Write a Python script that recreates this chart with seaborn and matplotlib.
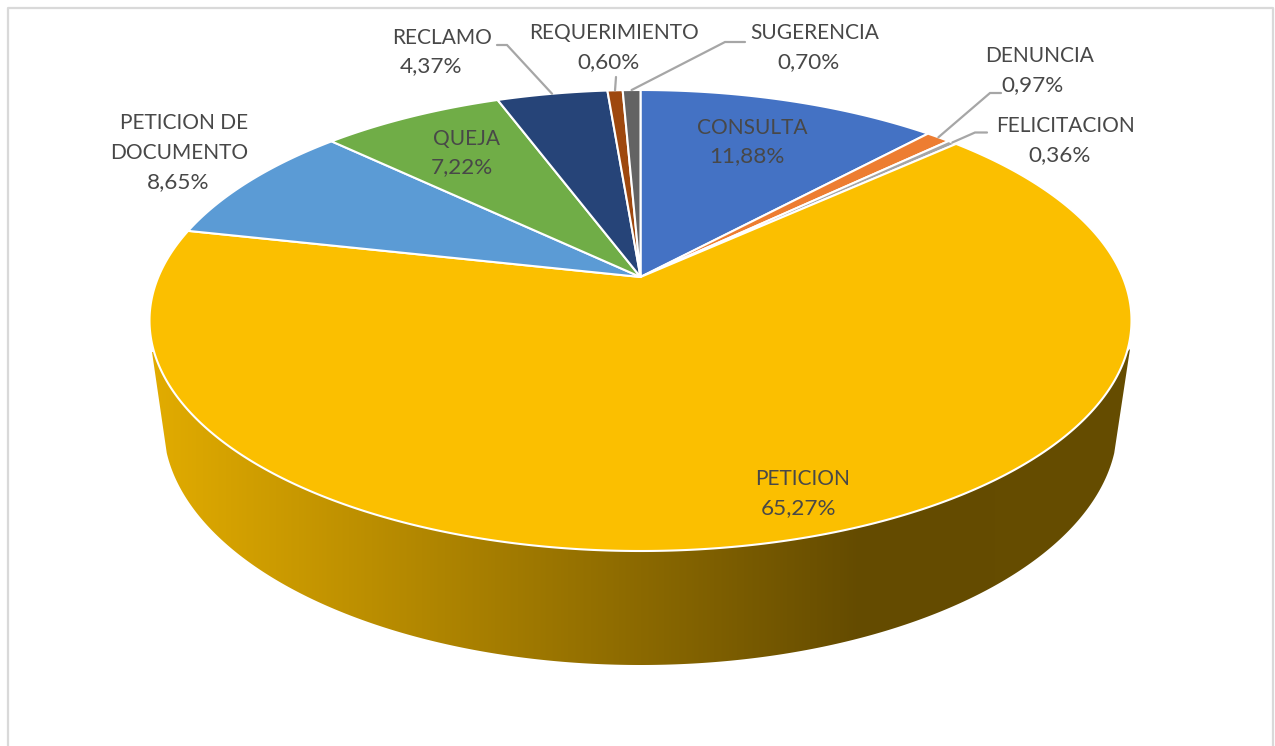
import numpy as np
import matplotlib
matplotlib.use("Agg")
import matplotlib.pyplot as plt
from matplotlib.colors import LinearSegmentedColormap
from matplotlib.patches import Polygon
import seaborn as sns

categories = ["CONSULTA", "DENUNCIA", "FELICITACION", "PETICION",
              "PETICION DE\nDOCUMENTO", "QUEJA", "RECLAMO", "REQUERIMIENTO", "SUGERENCIA"]
values = [11.88, 0.97, 0.36, 65.27, 8.65, 7.22, 4.37, 0.60, 0.70]
colors = ["#4472C4", "#ED7D31", "#A5A5A5", "#FBBF00", "#5B9BD5",
          "#70AD47", "#264478", "#9E480E", "#636363"]

# label layout: centre of each text line, in the pixel space of the axes
name_pos = [[(752, 128)], [(1040, 56)], [(1066, 126)], [(803, 479)],
            [(184, 123), (179, 153)], [(467, 139)], [(442, 38)], [(614, 33)], [(815, 33)]]
value_pos = [(747, 156), (1033, 85), (1060, 155), (798, 508), (178, 182),
             (462, 167), (431, 66), (608, 62), (809, 62)]
# leader lines: elbow and end, for the slices labelled outside the pie
leaders = {1: [(990, 93), (1001, 93)], 2: [(975, 132.5), (987, 132.5)],
           6: [(507, 45), (497, 45)], 7: [(616, 77)], 8: [(725, 42), (745, 42)]}

sns.set_theme(style="white")
plt.rcParams["font.family"] = ["Lato", "DejaVu Sans"]

W, H = 1275, 746
fig = plt.figure(figsize=(W / 100, H / 100), dpi=100, facecolor="white")
ax = fig.add_axes([0, 0, 1, 1])

# perspective projection of the unit disc onto the pie's top ellipse
CX, CY, RX, RY = 640.5, 320.5, 491.0, 230.5
KK = 87 / (2 * RY)
AX = RX * np.sqrt(1 - KK ** 2)


def project(theta):
    x, y = np.sin(theta), np.cos(theta)
    den = 1 + KK * y
    return CX + AX * x / den, CY - (RY * y + 43.5) / den


palette = sns.color_palette(colors)
edges = np.concatenate([[0], np.cumsum(values)]) / np.sum(values) * 2 * np.pi
cx0, cy0 = project(0)[0], CY - 43.5

# side wall with horizontal gradient
phi0 = np.arcsin((352 - CY) / RY)
phi = np.linspace(phi0, np.pi - phi0, 300)
rim_x = CX + RX * np.cos(phi)
rim_y = CY + RY * np.sin(phi)
BCY, BRX, BRY = 425.0, 477.0, 240.0
psi0 = np.arcsin((453 - BCY) / BRY)
psi = np.linspace(psi0, np.pi - psi0, 300)
bot_x = CX + BRX * np.cos(psi)
bot_y = BCY + BRY * np.sin(psi)
wall = np.column_stack([np.r_[1130, rim_x, 152, bot_x[::-1]],
                        np.r_[349, rim_y, 352, bot_y[::-1]]])
cmap = LinearSegmentedColormap.from_list(
    "wall", [(0, "#E2AC00"), (0.725, "#644B00"), (1, "#664D00")])
img = ax.imshow(np.linspace(0, 1, 512)[None, :], extent=(150, 1132, 670, 340),
                cmap=cmap, aspect="auto", vmin=0, vmax=1, zorder=1, interpolation="bilinear")
clip = Polygon(wall, closed=True, transform=ax.transData, fc="none", ec="none")
ax.add_patch(clip)
img.set_clip_path(clip)

# top face slices
for i, col in enumerate(palette):
    th = np.linspace(edges[i], edges[i + 1], max(int(values[i] * 8), 6))
    px, py = project(th)
    ax.fill(np.r_[cx0, px], np.r_[cy0, py], facecolor=col, edgecolor="white",
            linewidth=1.5, joinstyle="round", zorder=2)

# leaders
for i, pts in leaders.items():
    sx, sy = project((edges[i] + edges[i + 1]) / 2)
    ax.plot([sx] + [p[0] for p in pts], [sy] + [p[1] for p in pts],
            color="#A6A6A6", lw=1.6, zorder=3, solid_joinstyle="miter")

# labels
TXT = "#484848"
for i, name in enumerate(categories):
    for line, (x, y) in zip(name.split("\n"), name_pos[i]):
        ax.text(x, y, line, ha="center", va="center", color=TXT, fontsize=15.0, zorder=4)
    vx, vy = value_pos[i]
    ax.text(vx, vy, f"{values[i]:.2f}%".replace(".", ","), ha="center", va="center",
            color=TXT, fontsize=16.2, zorder=4)

# chart frame (runs past the bottom of the picture)
ax.plot([7.5, 7.5, 1273, 1273], [760, 7.5, 7.5, 760], color="#D9D9D9", lw=1.6, zorder=0)

ax.set_xlim(0, W)
ax.set_ylim(H, 0)
ax.axis("off")
fig.savefig("out.png", dpi=100, facecolor="white")
